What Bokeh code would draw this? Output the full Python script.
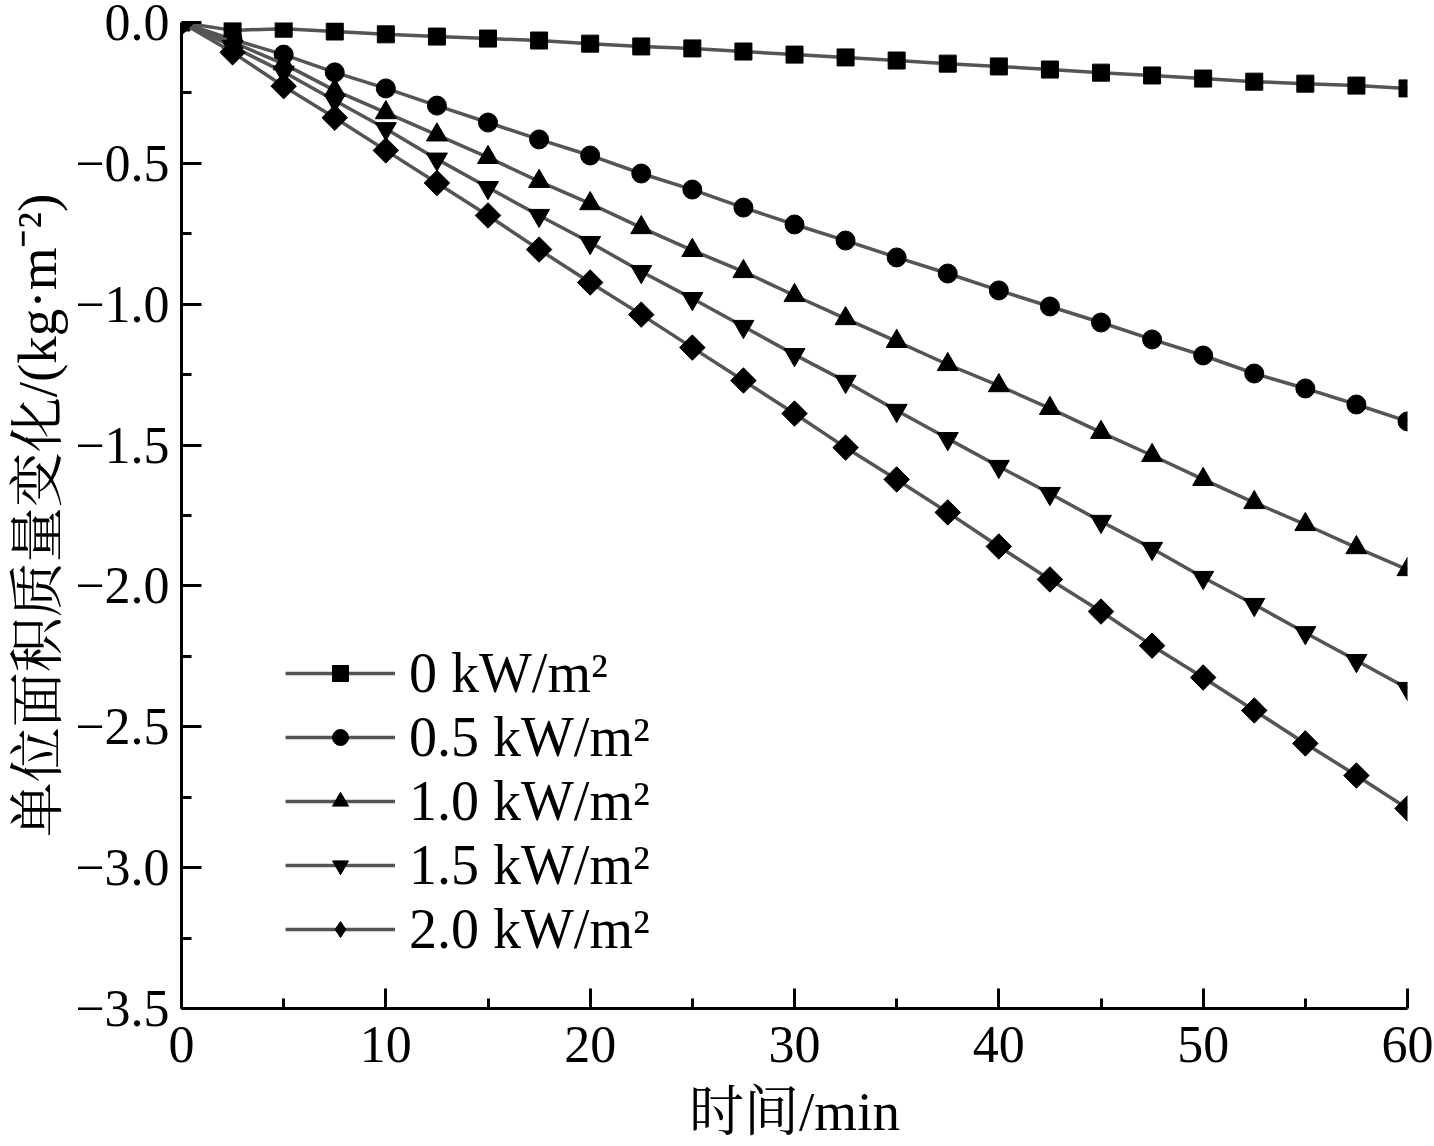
import math
from bokeh.plotting import figure
from bokeh.models import Range1d, Legend, LegendItem, CustomJSTickFormatter, FixedTicker
from bokeh.embed import file_html
from bokeh.resources import INLINE

time_min = [0, 2.5, 5, 7.5, 10, 12.5, 15, 17.5, 20, 22.5, 25, 27.5, 30,
            32.5, 35, 37.5, 40, 42.5, 45, 47.5, 50, 52.5, 55, 57.5, 60]

s_0 = [0, -0.028, -0.022, -0.032, -0.042, -0.05, -0.057, -0.064, -0.075, -0.085,
       -0.092, -0.103, -0.114, -0.124, -0.135, -0.146, -0.156, -0.167, -0.178,
       -0.188, -0.199, -0.21, -0.217, -0.224, -0.234]
s_05 = [0, -0.06, -0.114, -0.177, -0.234, -0.295, -0.355, -0.415, -0.472, -0.536,
        -0.593, -0.657, -0.717, -0.774, -0.834, -0.891, -0.951, -1.008, -1.065,
        -1.125, -1.182, -1.246, -1.299, -1.356, -1.416]
s_10 = [0, -0.07, -0.147, -0.241, -0.32, -0.399, -0.479, -0.564, -0.643, -0.728,
        -0.809, -0.884, -0.969, -1.051, -1.132, -1.214, -1.289, -1.37, -1.455,
        -1.537, -1.622, -1.704, -1.782, -1.864, -1.942]
s_15 = [0, -0.085, -0.176, -0.277, -0.377, -0.485, -0.586, -0.685, -0.781, -0.884,
        -0.98, -1.079, -1.179, -1.274, -1.377, -1.477, -1.576, -1.672, -1.771,
        -1.867, -1.97, -2.066, -2.166, -2.265, -2.364]
s_20 = [0, -0.106, -0.226, -0.338, -0.454, -0.57, -0.685, -0.806, -0.923, -1.037,
        -1.154, -1.271, -1.388, -1.509, -1.622, -1.739, -1.86, -1.977, -2.091,
        -2.212, -2.325, -2.442, -2.559, -2.673, -2.79]

labels = ["0 kW/m²", "0.5 kW/m²", "1.0 kW/m²", "1.5 kW/m²", "2.0 kW/m²"]
markers = ["square", "circle", "triangle", "inverted_triangle", "square"]
angles = [0, 0, 0, 0, math.pi / 4]
msizes = [17, 19, 21, 21, 18]
legend_markers = ["square", "circle", "triangle", "inverted_triangle", "diamond"]
legend_sizes = [14, 15, 17, 17, 30]
series = [s_0, s_05, s_10, s_15, s_20]

FONT = "'Liberation Serif', 'Noto Serif CJK SC', 'Noto Sans CJK SC', serif"

p = figure(width=1434, height=1146, output_backend="svg", toolbar_location=None,
           x_range=Range1d(0, 60), y_range=Range1d(-3.5, 0),
           min_border_left=181, min_border_top=22, min_border_right=27, min_border_bottom=138)
p.outline_line_color = None
p.xgrid.visible = False
p.ygrid.visible = False

items = []
for ys, lab, mk, ang, ms, lmk, lms in zip(series, labels, markers, angles, msizes,
                                          legend_markers, legend_sizes):
    r1 = p.line(time_min, ys, line_color="#555555", line_width=3.5)
    p.scatter(time_min, ys, marker=mk, angle=ang, size=ms, fill_color="black", line_color="black")
    rl = p.scatter([float("nan")], [float("nan")], marker=lmk, size=lms,
                   fill_color="black", line_color="black")
    items.append(LegendItem(label=lab, renderers=[r1, rl]))

for ax in (p.xaxis[0], p.yaxis[0]):
    ax.axis_line_width = 3
    ax.axis_line_color = "black"
    ax.major_tick_in = 20
    ax.major_tick_out = 0
    ax.minor_tick_in = 10
    ax.minor_tick_out = 0
    ax.major_tick_line_width = 3
    ax.minor_tick_line_width = 3
    ax.major_label_text_font = FONT
    ax.major_label_text_font_size = "52px"
    ax.major_label_text_color = "black"
    ax.axis_label_text_font = FONT
    ax.axis_label_text_font_size = "55px"
    ax.axis_label_text_font_style = "normal"
    ax.axis_label_text_color = "black"

p.xaxis.ticker = FixedTicker(ticks=[0, 10, 20, 30, 40, 50, 60], minor_ticks=[5, 15, 25, 35, 45, 55])
p.yaxis.ticker = FixedTicker(ticks=[0, -0.5, -1.0, -1.5, -2.0, -2.5, -3.0, -3.5],
                             minor_ticks=[-0.25, -0.75, -1.25, -1.75, -2.25, -2.75, -3.25])
p.yaxis.formatter = CustomJSTickFormatter(code="return tick.toFixed(1).replace('-', '\u2212');")
p.xaxis.formatter = CustomJSTickFormatter(code="return tick.toFixed(0);")
p.xaxis.major_label_standoff = 18
p.yaxis.major_label_standoff = 12
p.xaxis.axis_label = "时间/min"
p.yaxis.axis_label = "单位面积质量变化/(kg·m⁻²)"
p.xaxis.axis_label_standoff = 16
p.yaxis.axis_label_standoff = 4

legend = Legend(items=items, location=(104, 47))
legend.label_text_font = FONT
legend.label_text_font_size = "56px"
legend.label_text_color = "black"
legend.glyph_width = 110
legend.glyph_height = 40
legend.spacing = 0
legend.label_standoff = 14
legend.border_line_color = None
legend.background_fill_alpha = 0
legend.padding = 0
legend.margin = 0
p.add_layout(legend)

open("out.html", "w").write(file_html(p, INLINE))
